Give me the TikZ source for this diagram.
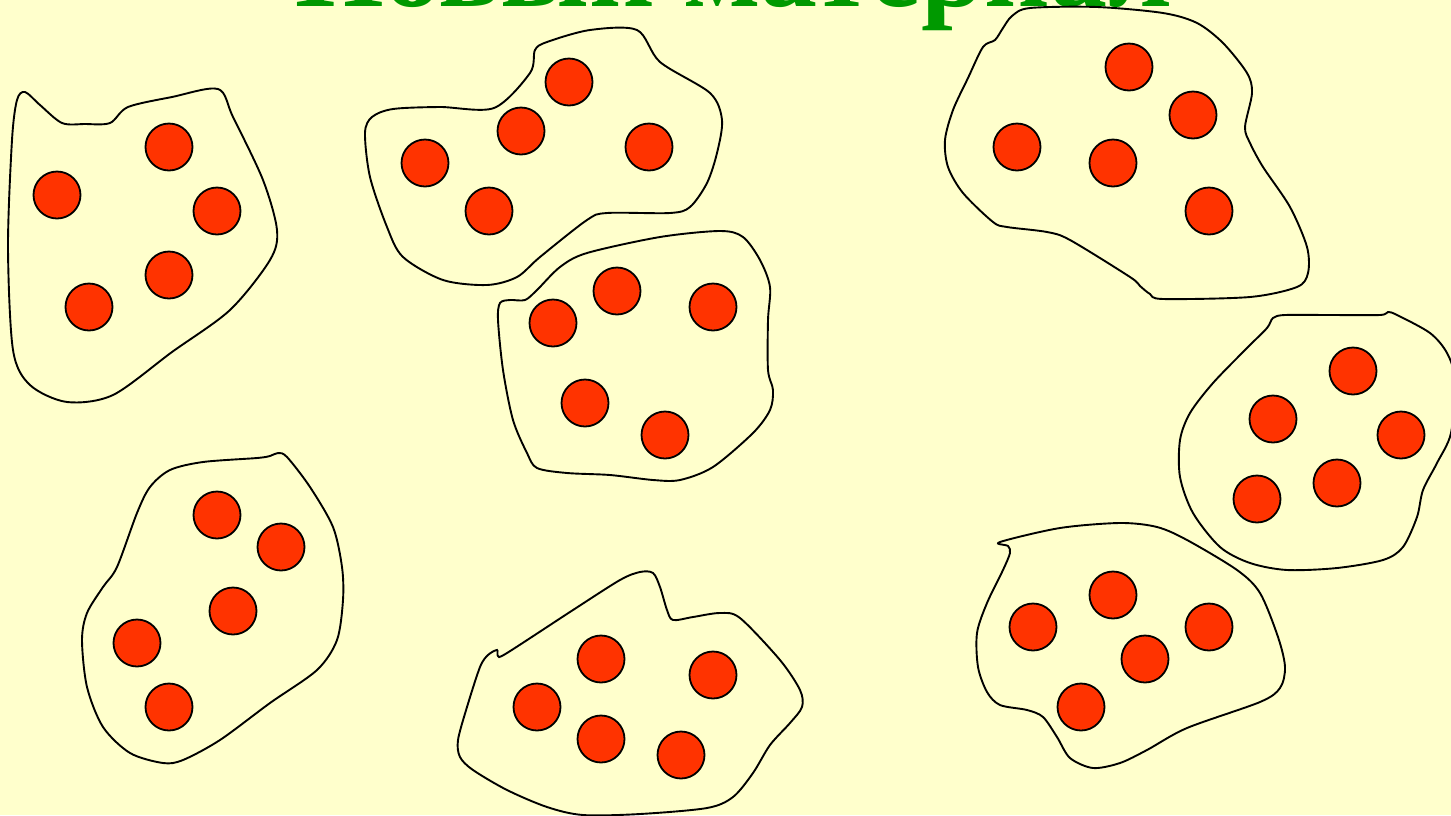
\documentclass[tikz,border=0pt]{standalone}
\usepackage{fontspec}
\setmainfont{Liberation Serif}
\definecolor{bg}{HTML}{FFFFCC}
\definecolor{dotred}{HTML}{FF3300}
\definecolor{titlegreen}{HTML}{009900}
\begin{document}
\begin{tikzpicture}[x=1pt,y=-1pt,
  blob/.style={draw=black,line width=1.9pt,fill=bg},
  dot/.style={circle,draw=black,fill=dotred,minimum size=47pt,inner sep=0pt,line width=1.8pt},
  title/.style={text=titlegreen,font=\fontsize{114}{114}\selectfont\bfseries,inner sep=0pt,anchor=base}]
\fill[bg] (0,0) rectangle (1451,815);
\useasboundingbox (0,0) rectangle (1451,815);
\clip (0,0) rectangle (1451,815);
\node[title] (ttl) at (734,6) {Новый материал};
% blob 1
\draw[blob] plot[smooth cycle,tension=0.5] coordinates {(25,92) (40,105) (62,123) (85,124) (110,123) (128,107) (172,97) (218,89) (233,117) (263,180) (277,230) (270,260) (230,310) (172,352) (113,395) (67,402) (30,385) (13,350) (8,247) (12,140) (17,100)};
% blob 2
\draw[blob] plot[smooth cycle,tension=0.5] coordinates {(494,108) (530,73) (535,50) (547,42) (590,30) (637,30) (660,62) (710,93) (722,120) (717,153) (707,183) (690,207) (670,213) (607,213) (587,220) (540,257) (517,277) (487,285) (443,280) (403,257) (387,227) (370,177) (365,133) (372,117) (393,109) (440,107)};
% blob 3
\draw[blob] plot[smooth cycle,tension=0.5] coordinates {(525,300) (537,290) (560,267) (587,253) (660,237) (720,231) (743,237) (760,260) (770,287) (768,320) (768,370) (773,390) (770,410) (753,433) (713,467) (680,480) (653,480) (610,475) (567,473) (537,468) (527,453) (513,420) (503,370) (498,320) (500,303) (510,300)};
% blob 4
\draw[blob] plot[smooth cycle,tension=0.5] coordinates {(983,47) (995,40) (1003,28) (1012,16) (1030,8) (1097,7) (1163,13) (1197,23) (1223,43) (1247,73) (1252,93) (1245,127) (1250,143) (1263,167) (1290,207) (1307,247) (1308,273) (1297,287) (1250,297) (1163,299) (1150,294) (1140,286) (1130,277) (1070,240) (1047,232) (1007,227) (993,222) (963,193) (948,167) (945,140) (953,110) (968,78)};
% blob 5
\draw[blob] plot[smooth cycle,tension=0.5] coordinates {(1267,328) (1273,318) (1285,315) (1330,315) (1380,315) (1388,312) (1397,315) (1430,333) (1447,353) (1455,380) (1451,433) (1437,463) (1423,490) (1417,517) (1403,547) (1383,560) (1337,568) (1287,570) (1250,563) (1220,547) (1193,513) (1180,477) (1180,440) (1190,413) (1213,383) (1247,348)};
% blob 6
\draw[blob] plot[smooth cycle,tension=0.5] coordinates {(1000,542) (1008,546) (1010,553) (1003,570) (987,603) (977,633) (978,667) (987,692) (1000,705) (1027,710) (1043,717) (1057,737) (1070,758) (1093,768) (1120,763) (1147,750) (1187,728) (1260,702) (1280,688) (1285,667) (1278,637) (1260,593) (1237,570) (1187,540) (1157,527) (1120,523) (1060,528)};
% blob 7
\draw[blob] plot[smooth cycle,tension=0.5] coordinates {(498,656) (497,650) (488,655) (480,667) (467,707) (458,740) (460,757) (473,770) (507,790) (547,807) (583,815) (640,814) (707,808) (733,797) (753,773) (770,745) (790,723) (802,707) (800,690) (780,660) (740,618) (720,613) (693,617) (673,620) (667,610) (660,587) (653,573) (640,572) (620,580) (573,610) (507,653)};
% blob 8
\draw[blob] plot[smooth cycle,tension=0.5] coordinates {(278,453) (287,457) (310,487) (333,527) (342,567) (343,600) (337,640) (317,670) (270,703) (220,740) (183,760) (163,763) (130,753) (103,727) (87,687) (82,640) (87,613) (103,587) (117,567) (137,513) (150,487) (170,470) (203,462) (257,458) (270,456)};
% dots
\node[dot] (a1) at (57,195) {};
\node[dot] (a2) at (169,147) {};
\node[dot] (a3) at (217,211) {};
\node[dot] (a4) at (169,275) {};
\node[dot] (a5) at (89,307) {};
\node[dot] (b1) at (569,82) {};
\node[dot] (b2) at (521,131) {};
\node[dot] (b3) at (425,163) {};
\node[dot] (b4) at (489,211) {};
\node[dot] (b5) at (649,147) {};
\node[dot] (c1) at (553,323) {};
\node[dot] (c2) at (617,291) {};
\node[dot] (c3) at (713,307) {};
\node[dot] (c4) at (585,403) {};
\node[dot] (c5) at (665,435) {};
\node[dot] (d1) at (1129,67) {};
\node[dot] (d2) at (1193,115) {};
\node[dot] (d3) at (1017,147) {};
\node[dot] (d4) at (1113,163) {};
\node[dot] (d5) at (1209,211) {};
\node[dot] (e1) at (1353,371) {};
\node[dot] (e2) at (1273,419) {};
\node[dot] (e3) at (1401,435) {};
\node[dot] (e4) at (1337,483) {};
\node[dot] (e5) at (1257,499) {};
\node[dot] (f1) at (1113,595) {};
\node[dot] (f2) at (1033,627) {};
\node[dot] (f3) at (1209,627) {};
\node[dot] (f4) at (1145,659) {};
\node[dot] (f5) at (1081,707) {};
\node[dot] (g1) at (601,659) {};
\node[dot] (g2) at (713,675) {};
\node[dot] (g3) at (537,707) {};
\node[dot] (g4) at (601,739) {};
\node[dot] (g5) at (681,755) {};
\node[dot] (h1) at (217,515) {};
\node[dot] (h2) at (281,547) {};
\node[dot] (h3) at (233,611) {};
\node[dot] (h4) at (137,643) {};
\node[dot] (h5) at (169,707) {};
\end{tikzpicture}
\end{document}
